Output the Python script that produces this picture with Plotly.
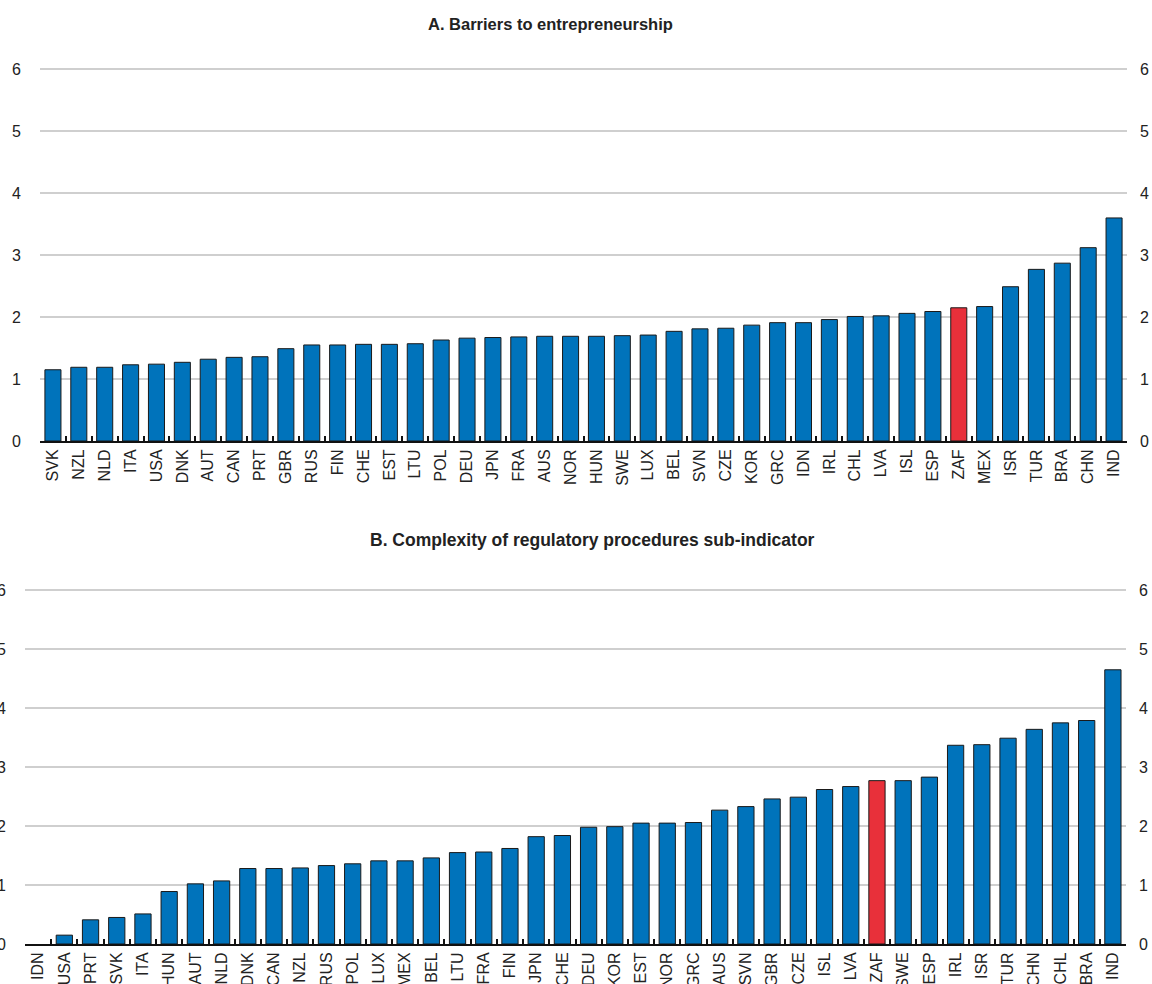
import plotly.graph_objects as go

# Panel A data
cats_a = ["SVK", "NZL", "NLD", "ITA", "USA", "DNK", "AUT", "CAN", "PRT", "GBR", "RUS", "FIN", "CHE", "EST",
          "LTU", "POL", "DEU", "JPN", "FRA", "AUS", "NOR", "HUN", "SWE", "LUX", "BEL", "SVN", "CZE", "KOR",
          "GRC", "IDN", "IRL", "CHL", "LVA", "ISL", "ESP", "ZAF", "MEX", "ISR", "TUR", "BRA", "CHN", "IND"]
vals_a = [1.15, 1.19, 1.19, 1.23, 1.24, 1.27, 1.32, 1.35, 1.36, 1.49, 1.55, 1.55, 1.56, 1.56,
          1.57, 1.63, 1.66, 1.67, 1.68, 1.69, 1.69, 1.69, 1.70, 1.71, 1.77, 1.81, 1.82, 1.87,
          1.91, 1.91, 1.96, 2.01, 2.02, 2.06, 2.09, 2.15, 2.17, 2.49, 2.77, 2.87, 3.12, 3.60]

# Panel B data
cats_b = ["IDN", "USA", "PRT", "SVK", "ITA", "HUN", "AUT", "NLD", "DNK", "CAN", "NZL", "RUS", "POL", "LUX",
          "MEX", "BEL", "LTU", "FRA", "FIN", "JPN", "CHE", "DEU", "KOR", "EST", "NOR", "GRC", "AUS", "SVN",
          "GBR", "CZE", "ISL", "LVA", "ZAF", "SWE", "ESP", "IRL", "ISR", "TUR", "CHN", "CHL", "BRA", "IND"]
vals_b = [0.0, 0.15, 0.41, 0.45, 0.51, 0.89, 1.02, 1.07, 1.28, 1.28, 1.29, 1.33, 1.36, 1.41,
          1.41, 1.46, 1.55, 1.56, 1.62, 1.82, 1.84, 1.98, 1.99, 2.05, 2.05, 2.06, 2.27, 2.33,
          2.46, 2.49, 2.62, 2.67, 2.77, 2.77, 2.83, 3.37, 3.38, 3.49, 3.64, 3.75, 3.79, 4.65]

y_ticks = [0, 1, 2, 3, 4, 5, 6]
title_a = "A. Barriers to entrepreneurship"
title_b = "B. Complexity of regulatory procedures sub-indicator"
highlight = "ZAF"

BLUE = "#0073BB"
RED = "#E8303A"
W, H = 1152, 984
FONT = "Liberation Sans, Arial, sans-serif"


def colors(cats):
    return [RED if c == highlight else BLUE for c in cats]


fig = go.Figure()

for cats, vals, xa, ya, ya_r in [(cats_a, vals_a, "x", "y", "y3"), (cats_b, vals_b, "x2", "y2", "y4")]:
    fig.add_trace(go.Bar(
        x=cats, y=vals, xaxis=xa, yaxis=ya,
        marker=dict(color=colors(cats),
                    line=dict(color="#1a1a1a", width=[0 if v == 0 else 1 for v in vals])),
        width=0.62, showlegend=False, hoverinfo="x+y",
    ))
    fig.add_trace(go.Scatter(
        x=cats, y=vals, xaxis=xa, yaxis=ya_r, mode="markers",
        marker=dict(opacity=0, size=1), showlegend=False, hoverinfo="skip",
    ))


def px_x(a, b):
    return [a / W, b / W]


def px_y(top, bottom):
    return [(H - bottom) / H, (H - top) / H]


dom_xa = px_x(40, 1127)
dom_ya = px_y(68, 441)
dom_xb = px_x(25, 1126)
dom_yb = px_y(589, 944)

tickfont = dict(family=FONT, size=16, color="#222222")

xcommon = dict(
    type="category", showgrid=False, showline=True, linecolor="#111111", linewidth=2,
    ticks="inside", tickson="boundaries", ticklen=5, tickcolor="#111111", tickwidth=1.5,
    tickangle=-90, tickfont=tickfont, zeroline=False, automargin=False,
)
ycommon = dict(
    range=[0, 6.02], tickvals=y_ticks, showgrid=True, gridcolor="#CFCFCF", gridwidth=1.5,
    showline=False, zeroline=False, ticks="", tickfont=tickfont, ticklabelstandoff=18,
    fixedrange=True, automargin=False,
)

fig.update_layout(
    width=W, height=H,
    margin=dict(l=0, r=0, t=0, b=0),
    paper_bgcolor="white", plot_bgcolor="white",
    bargap=0.38,
    xaxis=dict(domain=dom_xa, anchor="y", range=[-0.5, len(cats_a) - 0.5], **xcommon),
    yaxis=dict(domain=dom_ya, anchor="x", **ycommon),
    yaxis3=dict(overlaying="y", side="right", anchor="x", **{**ycommon, "showgrid": False, "ticklabelstandoff": 12}),
    xaxis2=dict(domain=dom_xb, anchor="y2", range=[-0.5, len(cats_b) - 0.5], **xcommon),
    yaxis2=dict(domain=dom_yb, anchor="x2", **ycommon),
    yaxis4=dict(overlaying="y2", side="right", anchor="x2", **{**ycommon, "showgrid": False, "ticklabelstandoff": 12}),
    annotations=[
        dict(text="<b>" + title_a + "</b>", x=550 / W, y=(H - 24) / H, xref="paper", yref="paper",
             showarrow=False, xanchor="center", yanchor="middle",
             font=dict(family=FONT, size=16.5, color="#222222")),
        dict(text="<b>" + title_b + "</b>", x=592 / W, y=(H - 540) / H, xref="paper", yref="paper",
             showarrow=False, xanchor="center", yanchor="middle",
             font=dict(family=FONT, size=17.5, color="#222222")),
    ],
)

fig.write_html("out.html", config={"displayModeBar": False},
               post_script="document.body.style.margin='0';document.body.style.overflow='hidden';")
